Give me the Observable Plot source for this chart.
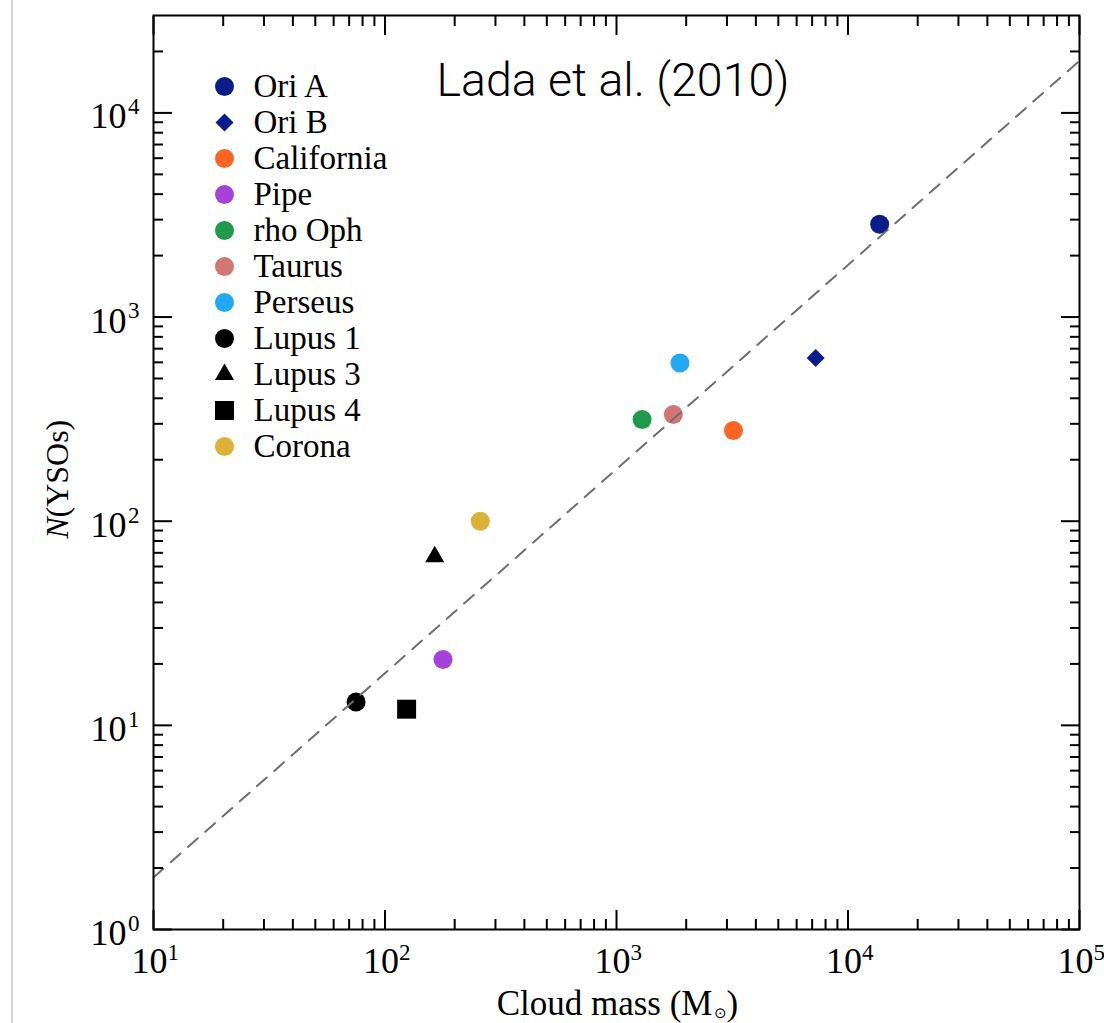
<!DOCTYPE html>
<html><head><meta charset="utf-8">
<script src="https://cdn.jsdelivr.net/npm/d3@7"></script>
<script src="https://cdn.jsdelivr.net/npm/@observablehq/plot@0.6"></script>
<style>
body{margin:0;background:#fff;}
#wrap{position:relative;width:1104px;height:1023px;overflow:hidden;background:#fff;}
#edge{position:absolute;left:11px;top:0;width:2px;height:1023px;background:#d4d4d4;z-index:3;}
#legend{position:absolute;left:153px;top:0;z-index:2;}
#main{position:absolute;left:0;top:0;z-index:1;}
</style></head><body><div id="wrap"><div id="edge"></div><div id="main"></div><div id="legend"></div></div>
<script>
// ---- data ----
const clouds = ["Ori A","Ori B","California","Pipe","rho Oph","Taurus","Perseus","Lupus 1","Lupus 3","Lupus 4","Corona"];
const cloudMass = [13700, 7250, 3200, 178, 1290, 1760, 1880, 75, 164, 124, 258];
const nYSOs = [2850, 630, 278, 21, 315, 333, 595, 13, 67, 12, 100];
const fitMass = [10, 100000];
const fitN = [1.8, 18000];

const xMajor = [10, 100, 1000, 10000, 100000];
const xExponents = ["1","2","3","4","5"];
const xMinor = [20,30,40,50,60,70,80,90, 200,300,400,500,600,700,800,900,
  2000,3000,4000,5000,6000,7000,8000,9000, 20000,30000,40000,50000,60000,70000,80000,90000];
const yMajor = [1, 10, 100, 1000, 10000];
const yExponents = ["0","1","2","3","4"];
const yMinor = [2,3,4,5,6,7,8,9, 20,30,40,50,60,70,80,90, 200,300,400,500,600,700,800,900,
  2000,3000,4000,5000,6000,7000,8000,9000, 20000];

// ---- styles ----
const cloudColors = ["#0b1d8a","#0b1d8a","#fb6423","#a742d9","#1d9a4a","#d27573","#21a9f5","#000000","#000000","#000000","#dbb137"];
const cloudSymbols = ["circle","diamond2","circle","circle","circle","circle","circle","circle","triangle","square","circle"];
const symbolRadius = {circle: 9.5, diamond2: 8.1, triangle: 7.1, square: 10.7};
const radiusOf = name => symbolRadius[cloudSymbols[clouds.indexOf(name)]];

const rows = clouds.map((name, i) => ({name, mass: cloudMass[i], n: nYSOs[i]}));
const fitRows = fitMass.map((m, i) => ({mass: m, n: fitN[i]}));
const xTicks = xMajor.map((v, i) => ({v, e: xExponents[i]}));
const yTicks = yMajor.map((v, i) => ({v, e: yExponents[i]}));

const serif = "'Liberation Serif', 'Times New Roman', serif";
const tickFs = 36, expFs = 23;

const main = Plot.plot({
  width: 1104, height: 1023,
  marginLeft: 153, marginRight: 25, marginTop: 15, marginBottom: 94,
  style: {fontFamily: serif, background: "transparent", color: "black", overflow: "visible"},
  x: {type: "log", domain: [10, 1e5]},
  y: {type: "log", domain: [1, 3e4]},
  color: {domain: clouds, range: cloudColors},
  symbol: {domain: clouds, range: cloudSymbols},
  r: {type: "identity"},
  marks: [
    Plot.dot(rows, {x: "mass", y: "n", fill: "name", symbol: "name", r: d => radiusOf(d.name)}),
    Plot.line(fitRows, {x: "mass", y: "n", stroke: "#6e6e6e", strokeWidth: 2, strokeDasharray: "13,10"}),
    // inward ticks on all four sides
    Plot.axisX(xMajor, {anchor: "bottom", tickSize: -19, strokeWidth: 2, fill: "none", label: null}),
    Plot.axisX(xMinor, {anchor: "bottom", tickSize: -10, strokeWidth: 2, fill: "none", label: null}),
    Plot.axisX(xMajor, {anchor: "top", tickSize: -19, strokeWidth: 2, fill: "none", label: null}),
    Plot.axisX(xMinor, {anchor: "top", tickSize: -10, strokeWidth: 2, fill: "none", label: null}),
    Plot.axisY(yMajor, {anchor: "left", tickSize: -19, strokeWidth: 2, fill: "none", label: null}),
    Plot.axisY(yMinor, {anchor: "left", tickSize: -10, strokeWidth: 2, fill: "none", label: null}),
    Plot.axisY(yMajor, {anchor: "right", tickSize: -19, strokeWidth: 2, fill: "none", label: null}),
    Plot.axisY(yMinor, {anchor: "right", tickSize: -10, strokeWidth: 2, fill: "none", label: null}),
    Plot.frame({stroke: "black", strokeWidth: 2}),
    // x tick labels 10^n
    Plot.text(xTicks, {x: "v", text: () => "10", frameAnchor: "bottom", dx: -4, dy: 32, textAnchor: "middle", lineAnchor: "middle", fontSize: tickFs}),
    Plot.text(xTicks, {x: "v", text: "e", frameAnchor: "bottom", dx: 14, dy: 23, textAnchor: "start", lineAnchor: "middle", fontSize: expFs}),
    // y tick labels 10^n
    Plot.text(yTicks, {y: "v", text: () => "10", frameAnchor: "left", dx: -27, dy: 4, textAnchor: "end", lineAnchor: "middle", fontSize: tickFs}),
    Plot.text(yTicks, {y: "v", text: "e", frameAnchor: "left", dx: -14, dy: -6, textAnchor: "end", lineAnchor: "middle", fontSize: expFs}),
    // x axis label: Cloud mass (M⊙)
    Plot.text(["Cloud mass (M"], {text: d => d, frameAnchor: "bottom", dx: 96, dy: 85, textAnchor: "end", lineAnchor: "bottom", fontSize: 35}),
    Plot.text(["\u2299"], {text: d => d, frameAnchor: "bottom", dx: 97, dy: 88, textAnchor: "start", lineAnchor: "bottom", fontSize: 15}),
    Plot.text([")"], {text: d => d, frameAnchor: "bottom", dx: 110, dy: 85, textAnchor: "start", lineAnchor: "bottom", fontSize: 35}),
    // y axis label: N(YSOs)
    Plot.text(["N"], {text: d => d, frameAnchor: "left", rotate: -90, dx: -86, dy: 45, textAnchor: "end", lineAnchor: "bottom", fontSize: 32, fontStyle: "italic"}),
    Plot.text(["(YSOs)"], {text: d => d, frameAnchor: "left", rotate: -90, dx: -86, dy: 45, textAnchor: "start", lineAnchor: "bottom", fontSize: 32}),
    // annotation
    Plot.text(["Lada et al. (2010)"], {text: d => d, frameAnchor: "top-left", dx: 283, dy: 80, textAnchor: "start", lineAnchor: "bottom", fontSize: 46.5, fontFamily: "Roboto, 'Liberation Sans', sans-serif", fontWeight: 300})
  ]
});
document.getElementById("main").appendChild(main);

// legend: a second plot with a point scale over the cloud names
const legend = Plot.plot({
  width: 300, height: 480,
  marginLeft: 71, marginRight: 0, marginTop: 82, marginBottom: 30,
  style: {fontFamily: serif, background: "transparent", color: "black"},
  y: {type: "point", domain: clouds, axis: null, padding: 0},
  color: {domain: clouds, range: cloudColors},
  symbol: {domain: clouds, range: cloudSymbols},
  r: {type: "identity"},
  marks: [
    Plot.dot(clouds, {y: d => d, frameAnchor: "left", fill: d => d, symbol: d => d, r: d => radiusOf(d)}),
    Plot.text(clouds, {y: d => d, text: d => d, frameAnchor: "left", dx: 29, textAnchor: "start", lineAnchor: "middle", fontSize: 33})
  ]
});
document.getElementById("legend").appendChild(legend);
</script></body></html>
